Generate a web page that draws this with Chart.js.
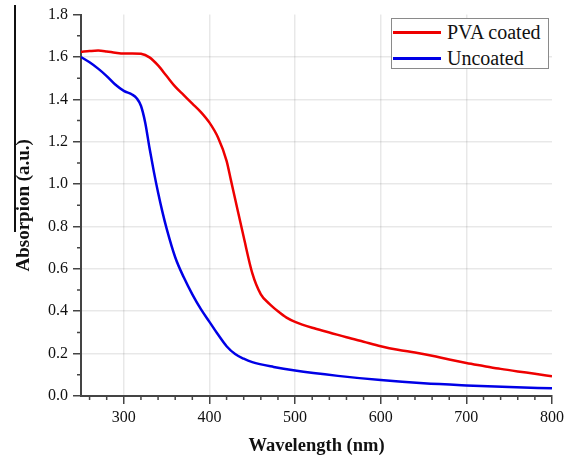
<!DOCTYPE html>
<html>
<head>
<meta charset="utf-8">
<script src="https://cdn.jsdelivr.net/npm/chart.js@4.4.1/dist/chart.umd.min.js"></script>
<style>
  body { margin: 0; background: #fff; }
  #wrap { position: relative; width: 568px; height: 458px; }
  #edge { position: absolute; left: 14px; top: 5px; width: 2px; height: 227px; background: #111; }
  #legend {
    position: absolute; left: 391px; top: 18px; width: 156px; height: 49px;
    border: 1px solid #8a8a8a; background: #fff;
    font-family: "Liberation Serif", serif; font-size: 20px; color: #111;
  }
  .row { display: flex; align-items: center; height: 26px; }
  .row:first-child { margin-top: 0px; }
  .swatch { width: 48px; height: 3px; margin: 0 6px 0 1px; }
</style>
</head>
<body>
<div id="wrap">
  <canvas id="chart" width="568" height="458"></canvas>
  <div id="edge"></div>
  <div id="legend"></div>
</div>
<script>
// wavelength (nm) and absorption
const coatedX = [250, 260, 270, 280, 290, 300, 310, 320, 330, 340, 350, 360, 370, 380, 390, 400, 410, 420, 425, 430, 440, 450, 460, 470, 480, 490, 500, 520, 540, 560, 580, 600, 620, 640, 660, 680, 700, 720, 740, 760, 780, 800];
const coatedY = [1.625, 1.628, 1.63, 1.626, 1.62, 1.616, 1.617, 1.615, 1.598, 1.56, 1.51, 1.46, 1.42, 1.38, 1.34, 1.29, 1.22, 1.11, 1.02, 0.93, 0.75, 0.58, 0.48, 0.435, 0.40, 0.37, 0.35, 0.322, 0.30, 0.277, 0.256, 0.235, 0.218, 0.205, 0.19, 0.172, 0.156, 0.142, 0.128, 0.116, 0.105, 0.093];

const uncoatedX = [250, 260, 270, 280, 290, 300, 310, 315, 320, 325, 330, 335, 340, 345, 350, 360, 370, 380, 390, 400, 410, 420, 430, 440, 450, 475, 500, 550, 600, 650, 700, 750, 800];
const uncoatedY = [1.60, 1.575, 1.545, 1.51, 1.47, 1.44, 1.422, 1.405, 1.37, 1.29, 1.17, 1.06, 0.96, 0.87, 0.79, 0.655, 0.56, 0.48, 0.41, 0.35, 0.29, 0.235, 0.198, 0.176, 0.16, 0.137, 0.12, 0.095, 0.075, 0.06, 0.05, 0.042, 0.036];

const xTicks = [300, 400, 500, 600, 700, 800];
const xMinor = [260, 280, 320, 340, 360, 380, 420, 440, 460, 480, 520, 540, 560, 580, 620, 640, 660, 680, 720, 740, 760, 780];
const yTicks = [0.0, 0.2, 0.4, 0.6, 0.8, 1.0, 1.2, 1.4, 1.6, 1.8];
const yMinor = [0.1, 0.3, 0.5, 0.7, 0.9, 1.1, 1.3, 1.5, 1.7];

const seriesNames = ['PVA coated', 'Uncoated'];
const seriesColors = ['#ee0000', '#0000e6'];

const pts = (xs, ys) => xs.map((x, i) => ({ x: x, y: ys[i] }));

const serif = '"Liberation Serif", "DejaVu Serif", serif';
const axisColor = '#444';
const gridColor = 'rgba(0,0,0,0.09)';

// short minor tick marks on the outside of both axes
const minorTicks = {
  id: 'minorTicks',
  afterDraw(chart) {
    const { ctx, scales: { x, y } } = chart;
    ctx.save();
    ctx.strokeStyle = axisColor;
    ctx.lineWidth = 1.5;
    ctx.beginPath();
    xMinor.forEach(v => {
      const px = x.getPixelForValue(v);
      ctx.moveTo(px, y.bottom);
      ctx.lineTo(px, y.bottom + 4);
    });
    yMinor.forEach(v => {
      const py = y.getPixelForValue(v);
      ctx.moveTo(x.left, py);
      ctx.lineTo(x.left - 4, py);
    });
    ctx.stroke();
    ctx.restore();
  }
};

new Chart(document.getElementById('chart'), {
  type: 'line',
  data: {
    datasets: [
      { label: seriesNames[0], data: pts(coatedX, coatedY), borderColor: seriesColors[0], borderWidth: 2.5, pointRadius: 0, cubicInterpolationMode: 'monotone' },
      { label: seriesNames[1], data: pts(uncoatedX, uncoatedY), borderColor: seriesColors[1], borderWidth: 2.5, pointRadius: 0, cubicInterpolationMode: 'monotone' }
    ]
  },
  options: {
    responsive: false,
    animation: false,
    layout: { padding: { left: 0, right: 15, top: 14, bottom: 0 } },
    plugins: { legend: { display: false }, tooltip: { enabled: false } },
    scales: {
      x: {
        type: 'linear',
        min: 250,
        max: 800,
        afterBuildTicks: s => { s.ticks = xTicks.map(v => ({ value: v })); },
        afterFit: s => { s.height = 62; },
        border: { color: axisColor, width: 2 },
        grid: {
          color: c => (c.tick && c.tick.value === 800 ? 'transparent' : gridColor),
          lineWidth: 1.5,
          tickColor: axisColor,
          tickLength: 8,
          tickWidth: 1.5
        },
        ticks: { color: '#111', padding: 4, maxRotation: 0, font: { family: serif, size: 16 } },
        title: { display: true, text: 'Wavelength (nm)', color: '#111', padding: { top: 0, bottom: 1 }, font: { family: serif, size: 18.5, weight: 'bold' } }
      },
      y: {
        min: 0,
        max: 1.8,
        afterBuildTicks: s => { s.ticks = yTicks.map(v => ({ value: v })); },
        afterFit: s => { s.width = 81; },
        border: { color: axisColor, width: 2 },
        grid: {
          color: c => (c.tick && (c.tick.value === 0 || c.tick.value === 1.8) ? 'transparent' : gridColor),
          lineWidth: 1.5,
          tickColor: axisColor,
          tickLength: 8,
          tickWidth: 1.5
        },
        ticks: { color: '#111', padding: 5, font: { family: serif, size: 16 }, callback: v => v.toFixed(1) },
        title: { display: true, text: 'Absorpion (a.u.)', color: '#111', padding: { top: 13, bottom: 0 }, font: { family: serif, size: 19, weight: 'bold' } }
      }
    }
  },
  plugins: [minorTicks]
});

// html legend built from the series
const legend = document.getElementById('legend');
seriesNames.forEach((name, i) => {
  const row = document.createElement('div');
  row.className = 'row';
  row.innerHTML = `<span class="swatch" style="background:${seriesColors[i]}"></span><span>${name}</span>`;
  legend.appendChild(row);
});
</script>
</body>
</html>
